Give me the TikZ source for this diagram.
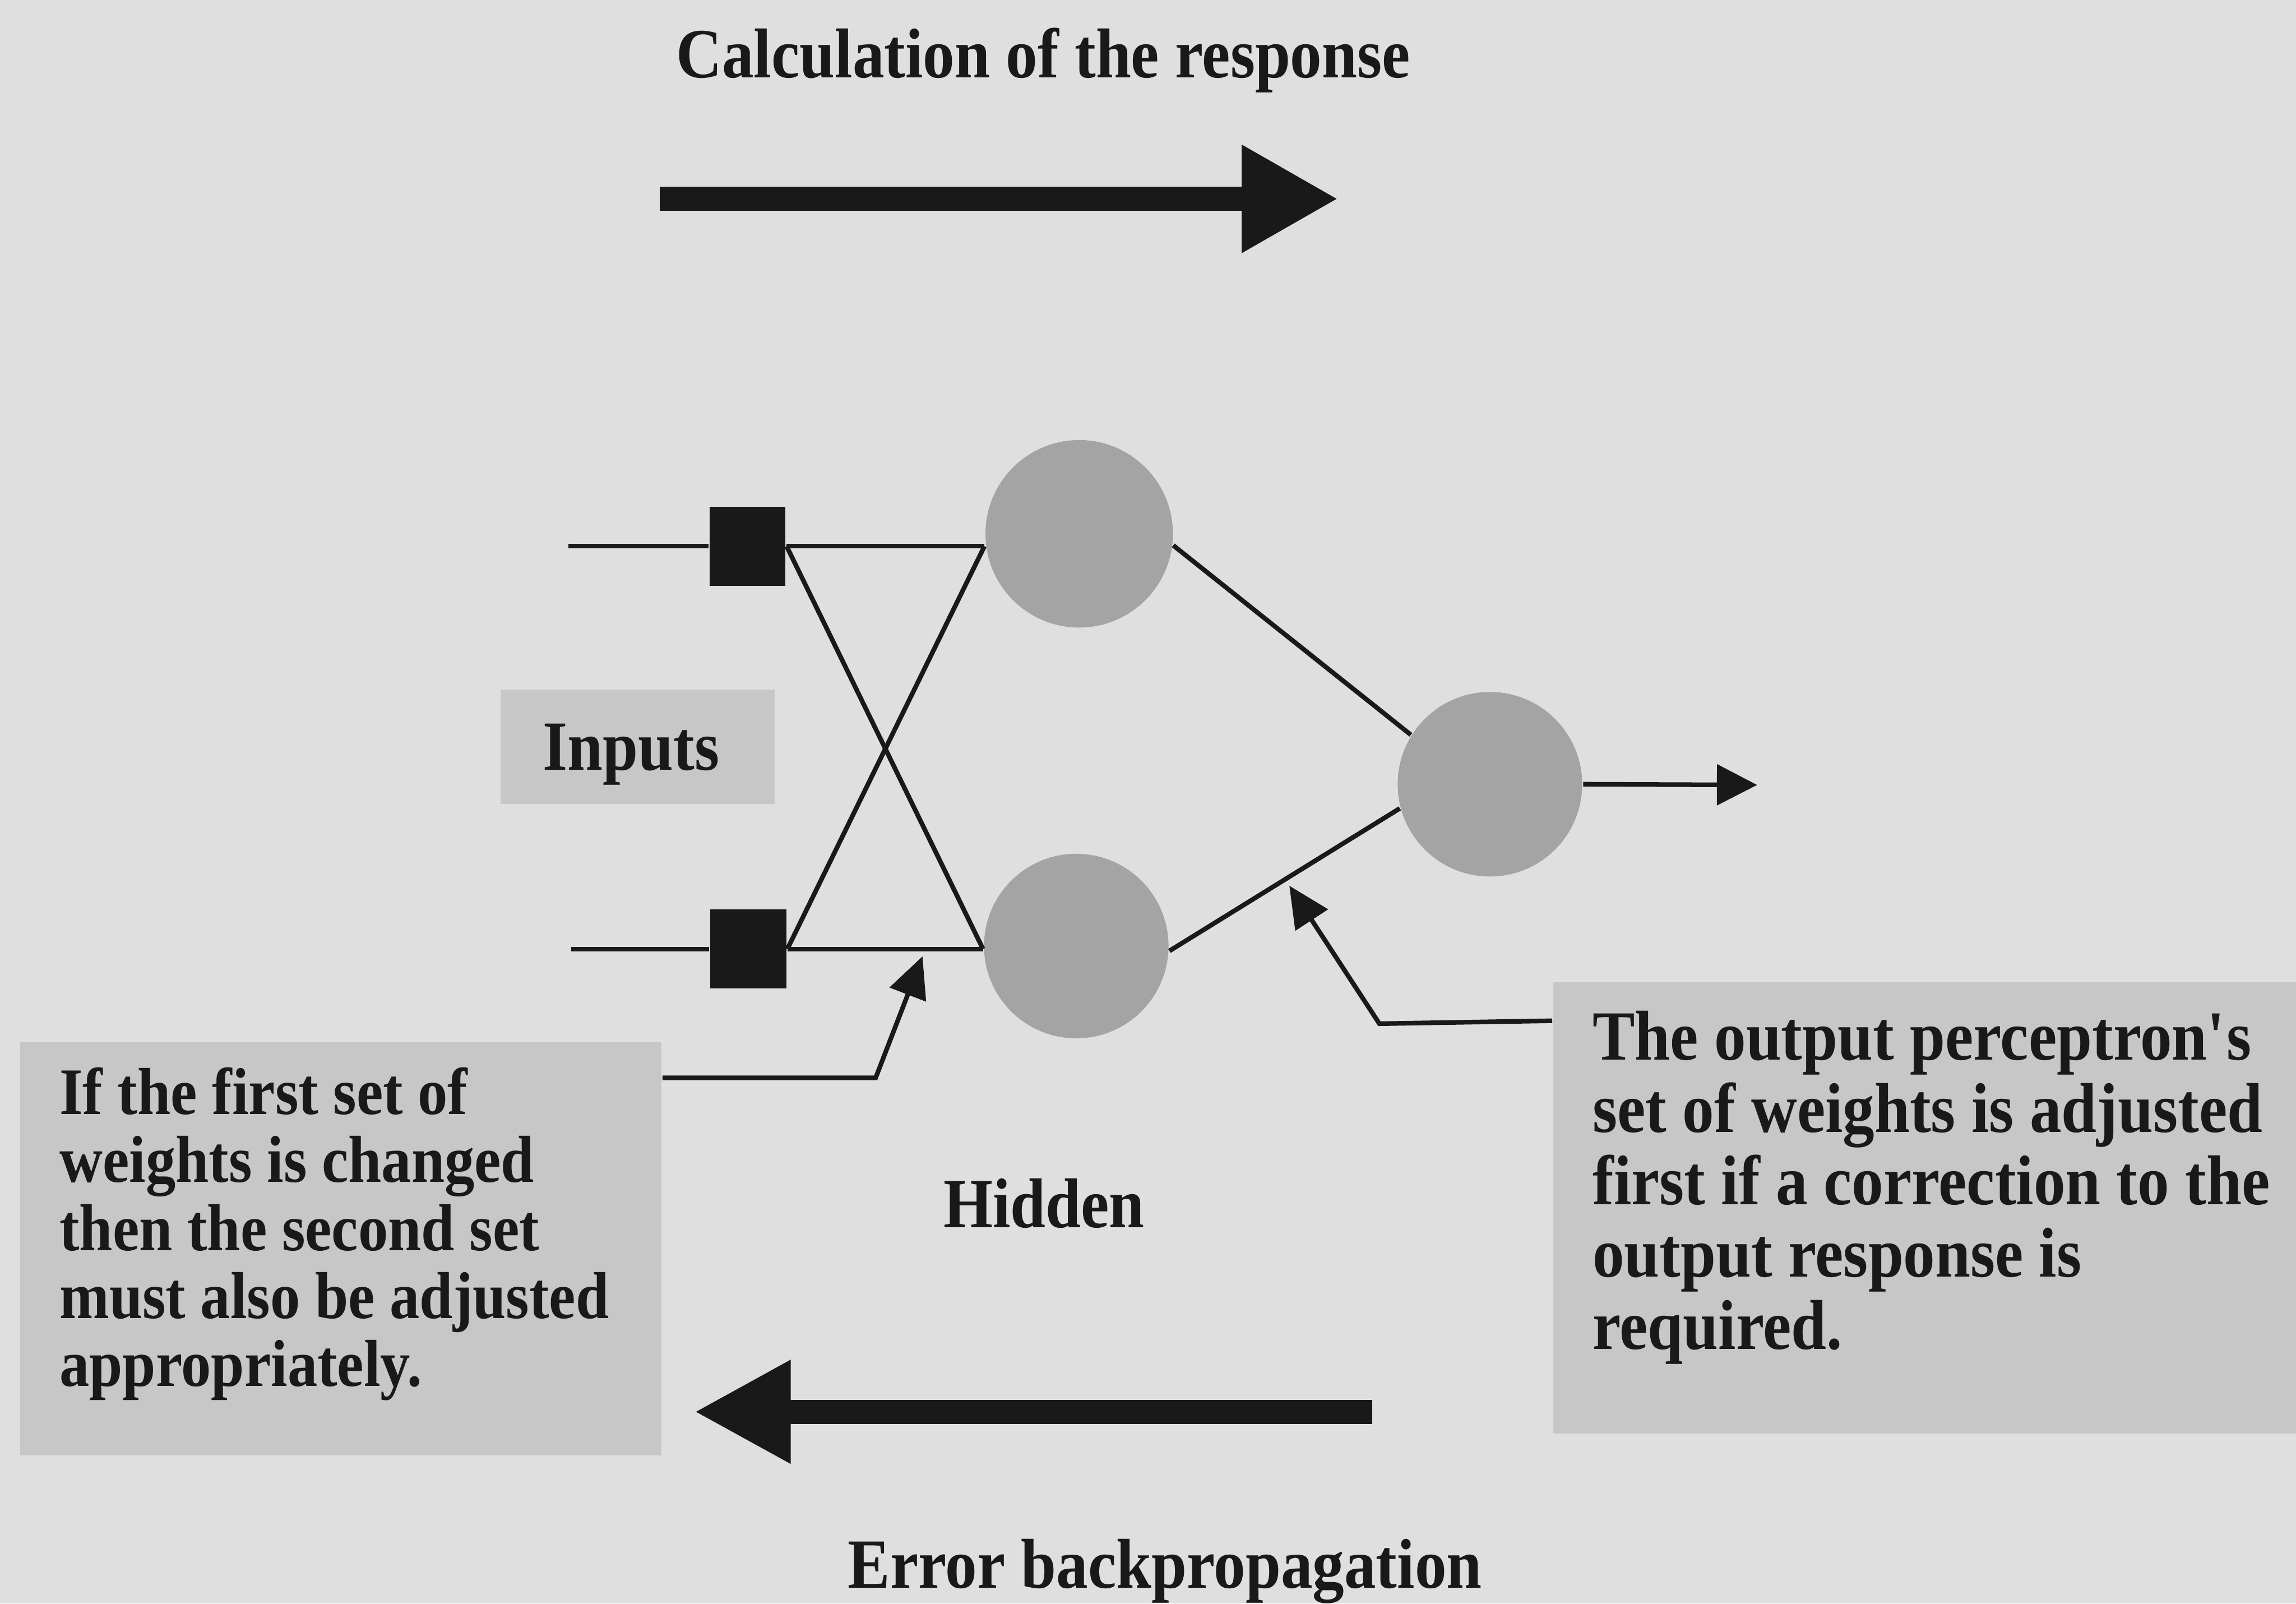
\documentclass[tikz,border=0pt]{standalone}
\usepackage{fontspec}
\setmainfont{Liberation Serif}[FakeStretch=0.9]
\usetikzlibrary{arrows.meta,calc}
\definecolor{bgc}{gray}{0.875}
\definecolor{boxc}{gray}{0.78}
\definecolor{circc}{gray}{0.645}
\definecolor{inkc}{gray}{0.1}
\begin{document}
\begin{tikzpicture}[
  txt/.style={font=\fontsize{13.7}{14.06}\selectfont\bfseries, text=inkc, inner sep=0pt},
  wire/.style={draw=inkc, line width=0.9pt},
  bigarrow/.style={draw=inkc, line width=0.165cm, -{Triangle[length=0.66cm,width=0.69cm]}},
  smallarrow/.style={wire, -{Triangle[length=0.28cm,width=0.26cm]}},
  unit/.style={circle, fill=circc, minimum size=1.27cm, inner sep=0pt},
  inbox/.style={rectangle, fill=inkc, minimum width=0.52cm, minimum height=0.54cm, inner sep=0pt},
  note/.style={fill=boxc, inner ysep=0pt, inner xsep=0.27cm, anchor=north west, align=left, text=inkc}
]
\useasboundingbox (0,0) rectangle (15.68,10.95);
\fill[bgc] (0,0) rectangle (15.68,10.95);
\clip (0,0) rectangle (15.68,10.95);

% labels
\node[txt, anchor=base] (title) at (7.125,10.418) {Calculation of the response};
\node[txt, anchor=base] (hid) at (7.13,2.57) {Hidden};
\node[txt, anchor=base] (err) at (7.955,0.105) {Error backpropagation};
\node[txt, fill=boxc, minimum width=1.87cm, minimum height=0.78cm, text depth=0pt] (inp) at (4.355,5.85) {\hspace*{-0.09cm}Inputs};

% note boxes
\node[note, text width=3.84cm, font=\fontsize{12.9}{13.23}\selectfont\bfseries] (lbox) at (0.13,3.84)
  {\spaceskip=0pt\xspaceskip=0pt\relax\rule{0pt}{0.49cm}If the first set of\\weights is changed\\then the second set\\must also be adjusted\\appropriately.\rule[-0.47cm]{0pt}{0pt}};
\node[note, text width=4.8cm, font=\fontsize{13.7}{14.06}\selectfont\bfseries] (rbox) at (10.60,4.25)
  {\spaceskip=0pt\xspaceskip=0pt\relax\rule{0pt}{0.53cm}The output perceptron\textquotesingle s\\set of weights is adjusted\\first if a correction to the\\output response is\\required.\rule[-0.574cm]{0pt}{0pt}};

% network nodes
\node[inbox] (in1) at (5.105,7.22) {};
\node[inbox] (in2) at (5.11,4.47) {};
\node[unit, minimum size=1.28cm] (h1) at (7.37,7.305) {};
\node[unit, minimum size=1.26cm] (h2) at (7.35,4.49) {};
\node[unit, minimum size=1.26cm] (out) at (10.175,5.595) {};

\coordinate (a1) at (3.88,7.22);
\coordinate (a2) at (3.90,4.47);
\coordinate (o1) at (12.00,5.59);

% input lines
\draw[wire] (a1) -- (in1.west);
\draw[wire] (a2) -- (in2.west);
% first layer weights
\draw[wire] (in1.east) -- (in1.east -| h1.west);
\draw[wire] (in2.east) -- (in1.east -| h1.west);
\draw[wire] (in2.east) -- (in2.east -| h2.west);
\draw[wire] (in1.east) -- (in2.east -| h2.west);
% second layer weights
\draw[wire] (h1.-7) -- (out.148);
\draw[wire] (h2.-3) -- (out.195);
% output
\draw[wire, -{Triangle[length=0.275cm,width=0.275cm]}] (out.east) -- (o1);

% big arrows
\coordinate (fa) at (4.505,9.592);
\coordinate (fb) at (9.14,9.592);
\draw[bigarrow] (fa) -- (fb);
\coordinate (ba) at (9.37,1.31);
\coordinate (bb) at (4.74,1.31);
\draw[bigarrow, -{Triangle[length=0.66cm,width=0.66cm]}] (ba) -- (bb);

% callouts
\coordinate (lk) at (5.98,3.59);
\coordinate (lt) at (6.30,4.42);
\draw[smallarrow] ($(lbox.north east)+(0,-0.25)$) -- (lk) -- (lt);
\coordinate (rk) at (9.42,3.96);
\coordinate (rt) at (8.805,4.902);
\draw[smallarrow] ($(rbox.north west)+(0,-0.27)$) -- (rk) -- (rt);
\end{tikzpicture}
\end{document}
